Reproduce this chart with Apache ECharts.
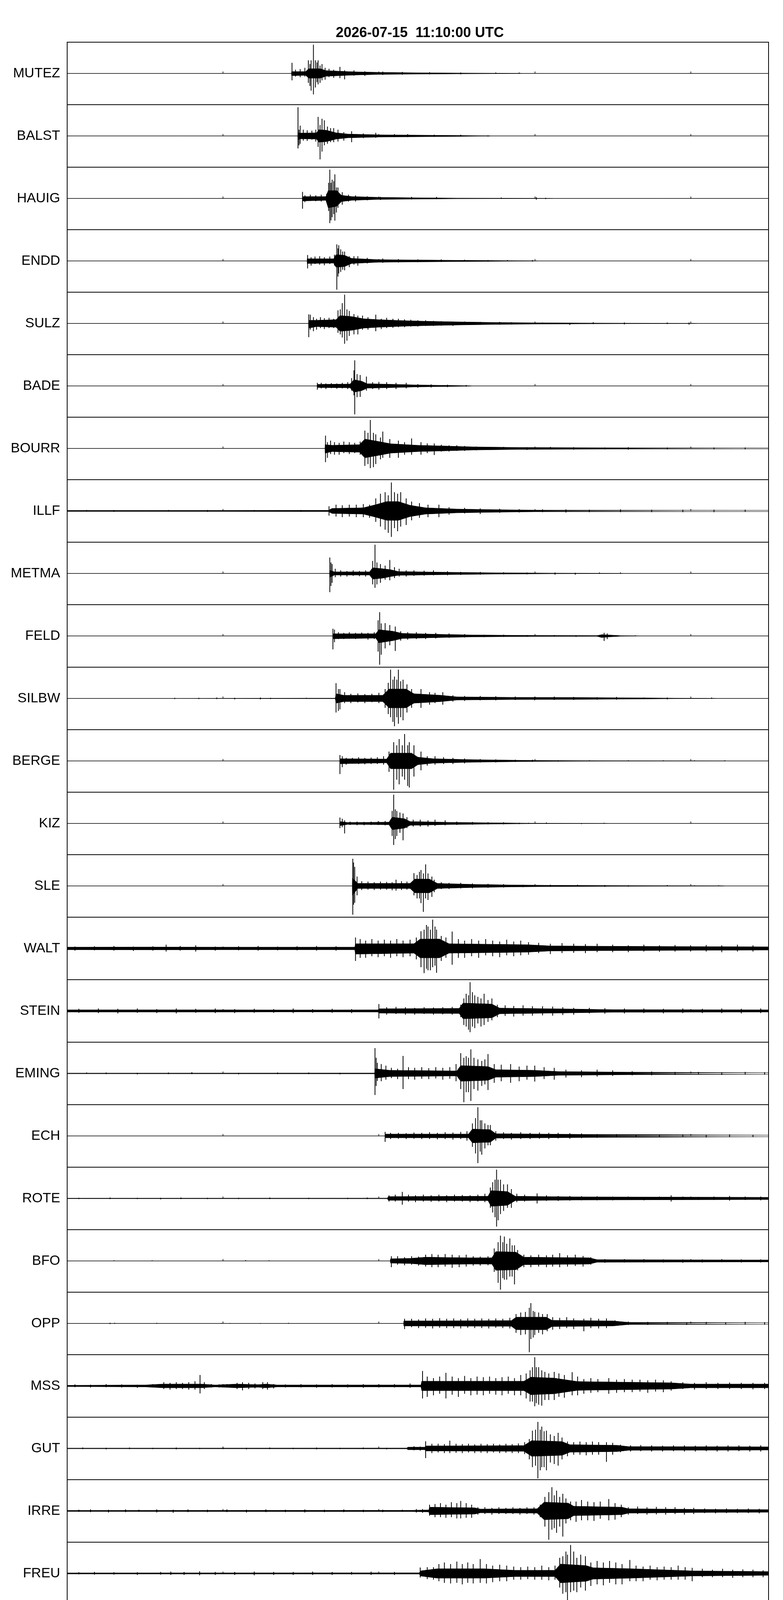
<!DOCTYPE html>
<html><head><meta charset="utf-8">
<script src="https://cdn.jsdelivr.net/npm/echarts@6/dist/echarts.min.js"></script>
<style>html,body{margin:0;padding:0;background:#fff}#c{width:2005px;height:4402px}</style>
</head><body><div id="c"></div>
<script>
const titleText = '2026-07-15  11:10:00 UTC';
const xAxisName = 'Zeit[s]';
const xTicks = [0, 20, 40, 60, 80];
const stations = ['MUTEZ','BALST','HAUIG','ENDD','SULZ','BADE','BOURR','ILLF','METMA','FELD','SILBW','BERGE','KIZ','SLE','WALT','STEIN','EMING','ECH','ROTE','BFO','OPP','MSS','GUT','IRRE','FREU','BABA'];

// *_env: dense core of the trace, knots [time s, upper, lower] (normalised to half a panel)
// *_pk : single excursions, [time s, max, min]
const MUTEZ_env = [[0,0,0],[28.78,0,0],[28.8,0.06,-0.07],[30.6,0.06,-0.06],[31,0.15,-0.15],[32.5,0.15,-0.15],[33.2,0.09,-0.09],[35,0.07,-0.07],[37,0.05,-0.05],[40,0.035,-0.03],[45,0.02,-0.02],[50,0.012,-0.012],[58,0.004,-0.004],[58.5,0,0],[90,0,0]];
const MUTEZ_pk = [[28.85,0.34,-0.22],[29.3,0.12,-0.1],[29.9,0.14,-0.12],[30.5,0.18,-0.1],[30.95,0.42,-0.3],[31.15,0.3,-0.4],[31.3,0.42,-0.55],[31.6,0.92,-0.67],[31.85,0.42,-0.45],[32.05,0.35,-0.28],[32.2,0.42,-0.35],[32.45,0.25,-0.3],[32.7,0.3,-0.22],[33.1,0.18,-0.2],[33.6,0.15,-0.12],[34.2,0.12,-0.14],[35.0,0.21,-0.15],[35.6,0.1,-0.19],[36.8,0.1,-0.07],[38.2,0.07,-0.08],[40.5,0.06,-0.05],[43,0.05,-0.04],[46.5,0.04,-0.03],[50.5,0.03,-0.03],[55,0.03,-0.01],[58,0.03,0]];
const BALST_env = [[0,0,0],[29.58,0,0],[29.6,0.1,-0.12],[30,0.09,-0.09],[32,0.1,-0.1],[32.3,0.2,-0.2],[33.3,0.18,-0.18],[34.5,0.1,-0.1],[36,0.06,-0.06],[40,0.035,-0.035],[45,0.025,-0.025],[50,0.015,-0.015],[54,0.005,-0.005],[54.5,0,0],[90,0,0]];
const BALST_pk = [[29.62,0.92,-0.4],[29.75,0.2,-0.3],[29.9,0.33,-0.25],[30.3,0.2,-0.15],[30.8,0.18,-0.16],[31.4,0.17,-0.12],[31.9,0.2,-0.18],[32.2,0.61,-0.35],[32.45,0.35,-0.75],[32.7,0.55,-0.5],[33.0,0.5,-0.3],[33.4,0.3,-0.25],[33.8,0.25,-0.2],[34.2,0.25,-0.2],[34.75,0.2,-0.18],[35.5,0.12,-0.15],[36.5,0.15,-0.2],[38,0.08,-0.07],[39.6,0.1,-0.06],[42,0.06,-0.04],[43.7,0.06,-0.04],[47.1,0.04,-0.03],[50.5,0.04,-0.02],[54,0.02,-0.02]];
const HAUIG_env = [[0,0,0],[30.18,0,0],[30.2,0.06,-0.08],[33.2,0.06,-0.06],[33.5,0.25,-0.3],[34.6,0.25,-0.25],[35.2,0.1,-0.1],[36.5,0.06,-0.06],[40,0.035,-0.03],[45,0.02,-0.02],[50,0.01,-0.01],[62,0.003,-0.003],[62.5,0,0],[90,0,0]];
const HAUIG_pk = [[30.2,0.21,-0.33],[30.5,0.1,-0.12],[31.2,0.12,-0.08],[31.9,0.1,-0.09],[32.6,0.12,-0.1],[33.3,0.15,-0.12],[33.55,0.5,-0.4],[33.7,0.92,-0.79],[33.85,0.5,-0.7],[34.0,0.6,-0.6],[34.2,0.55,-0.5],[34.35,0.77,-0.71],[34.55,0.35,-0.45],[34.75,0.35,-0.3],[35.3,0.2,-0.2],[36.1,0.12,-0.1],[37,0.1,-0.1],[38.5,0.07,-0.06],[40.2,0.05,-0.05],[44.2,0.05,-0.03],[47.4,0.05,-0.02],[55.7,0.03,0],[60.2,0.04,-0.04],[61.4,0.02,-0.02]];
const ENDD_env = [[0,0,0],[30.78,0,0],[30.8,0.07,-0.08],[34.2,0.07,-0.07],[34.5,0.2,-0.2],[35.6,0.18,-0.18],[36.5,0.08,-0.08],[40,0.04,-0.04],[45,0.03,-0.03],[50,0.02,-0.02],[55,0.012,-0.012],[60,0.004,-0.004],[60.5,0,0],[90,0,0]];
const ENDD_pk = [[30.85,0.19,-0.24],[31.3,0.12,-0.15],[31.8,0.14,-0.1],[32.4,0.15,-0.12],[33.0,0.12,-0.14],[33.7,0.14,-0.1],[34.3,0.2,-0.15],[34.6,0.53,-0.92],[34.75,0.4,-0.5],[34.85,0.5,-0.4],[35.1,0.37,-0.35],[35.35,0.3,-0.28],[35.6,0.3,-0.3],[36.2,0.15,-0.2],[36.8,0.15,-0.12],[37.3,0.15,-0.15],[38.5,0.1,-0.08],[40.5,0.08,-0.06],[42.5,0.06,-0.05],[45,0.05,-0.04],[48,0.05,-0.03],[51,0.04,-0.02],[54,0.03,-0.02],[56.5,0.03,0],[59.7,0.03,-0.02]];
const SULZ_env = [[0,0,0],[30.98,0,0],[31,0.1,-0.15],[32,0.1,-0.1],[34.5,0.12,-0.12],[35,0.25,-0.25],[36.5,0.22,-0.22],[38,0.15,-0.15],[40,0.12,-0.12],[43,0.09,-0.09],[46,0.07,-0.07],[50,0.05,-0.05],[55,0.03,-0.03],[60,0.02,-0.02],[66,0.012,-0.012],[75,0.006,-0.006],[80.5,0.003,-0.003],[81,0,0],[90,0,0]];
const SULZ_pk = [[31.0,0.29,-0.44],[31.2,0.28,-0.2],[31.6,0.2,-0.25],[32.0,0.15,-0.2],[32.5,0.2,-0.15],[33.0,0.17,-0.18],[33.6,0.18,-0.15],[34.2,0.15,-0.15],[34.75,0.42,-0.3],[35.05,0.45,-0.35],[35.3,0.65,-0.45],[35.6,0.92,-0.65],[35.9,0.45,-0.55],[36.2,0.4,-0.4],[36.8,0.3,-0.35],[37.3,0.25,-0.35],[37.9,0.25,-0.2],[38.6,0.2,-0.2],[39.6,0.28,-0.25],[40.3,0.15,-0.18],[41.0,0.18,-0.15],[41.8,0.15,-0.14],[42.5,0.15,-0.12],[43.3,0.13,-0.12],[44.1,0.12,-0.1],[45,0.1,-0.1],[46,0.1,-0.08],[47,0.08,-0.08],[48,0.07,-0.07],[49.5,0.05,-0.08],[51,0.06,-0.05],[53,0.05,-0.04],[55.5,0.05,-0.04],[57,0.04,-0.03],[61,0.03,-0.02],[64.5,0.02,-0.05],[67.5,0.04,-0.02],[71.5,0.03,-0.03],[77,0.03,-0.02],[79.8,0.03,-0.04]];
const BADE_env = [[0,0,0],[32.08,0,0],[32.1,0.05,-0.05],[36.3,0.06,-0.06],[36.8,0.2,-0.2],[37.8,0.15,-0.15],[38.5,0.07,-0.07],[42,0.05,-0.05],[45,0.03,-0.03],[48,0.02,-0.02],[51.5,0.008,-0.008],[52,0,0],[90,0,0]];
const BADE_pk = [[32.1,0.1,-0.12],[32.6,0.1,-0.08],[33.2,0.08,-0.1],[33.9,0.09,-0.07],[34.6,0.08,-0.09],[35.3,0.1,-0.08],[36.0,0.12,-0.1],[36.5,0.25,-0.15],[36.8,0.5,-0.3],[36.9,0.82,-0.91],[37.2,0.38,-0.36],[37.6,0.35,-0.35],[38.4,0.3,-0.15],[39.2,0.12,-0.1],[40,0.13,-0.12],[41,0.12,-0.1],[42.2,0.1,-0.1],[43.5,0.1,-0.08],[45,0.06,-0.06],[46.7,0.05,-0.05],[48.8,0.04,-0.04],[51.2,0.03,-0.02]];
const BOURR_env = [[0,0,0],[33.08,0,0],[33.1,0.12,-0.15],[34,0.1,-0.1],[37.5,0.12,-0.12],[38.2,0.3,-0.3],[40,0.22,-0.22],[41.5,0.15,-0.15],[45,0.1,-0.1],[48,0.08,-0.08],[52,0.05,-0.05],[58,0.03,-0.03],[70,0.02,-0.02],[90,0.015,-0.015]];
const BOURR_pk = [[33.15,0.41,-0.44],[33.4,0.2,-0.3],[33.8,0.25,-0.18],[34.3,0.2,-0.2],[34.9,0.18,-0.2],[35.5,0.22,-0.15],[36.2,0.2,-0.18],[36.9,0.18,-0.15],[37.6,0.22,-0.2],[38.2,0.57,-0.56],[38.6,0.5,-0.5],[38.9,0.91,-0.63],[39.3,0.5,-0.6],[39.6,0.45,-0.5],[40.2,0.35,-0.35],[40.5,0.54,-0.3],[41.4,0.3,-0.3],[42.5,0.25,-0.3],[43.3,0.2,-0.2],[44.2,0.32,-0.2],[45.4,0.2,-0.2],[46.2,0.16,-0.15],[47.1,0.16,-0.21],[48,0.12,-0.1],[49,0.1,-0.1],[50,0.1,-0.08],[51,0.08,-0.08],[52.5,0.06,-0.06],[54,0.05,-0.05],[56,0.05,-0.04],[59,0.04,-0.05],[62,0.05,-0.03],[65,0.04,-0.04],[69,0.03,-0.03],[72,0.04,-0.04],[77,0.03,-0.03],[83,0.03,-0.03],[87,0.03,-0.03]];
const ILLF_env = [[0,0.015,-0.015],[10,0.015,-0.015],[20,0.015,-0.015],[33.5,0.02,-0.02],[34,0.08,-0.08],[38,0.1,-0.1],[39.6,0.2,-0.2],[41,0.3,-0.3],[42.5,0.3,-0.3],[44,0.18,-0.18],[46,0.1,-0.1],[50,0.06,-0.06],[55,0.04,-0.04],[60,0.025,-0.025],[90,0.02,-0.02]];
const ILLF_pk = [[2.5,0.03,-0.02],[6,0.03,-0.03],[13,0.03,-0.02],[18,0.03,-0.03],[24,0.03,-0.02],[30,0.03,-0.03],[33.6,0.15,-0.15],[34.5,0.2,-0.18],[35.3,0.18,-0.2],[36.2,0.2,-0.18],[37.1,0.2,-0.2],[38.0,0.22,-0.2],[38.8,0.2,-0.22],[39.6,0.4,-0.35],[40.2,0.55,-0.5],[40.8,0.6,-0.6],[41.2,0.5,-0.7],[41.6,0.91,-0.83],[42.0,0.6,-0.55],[42.4,0.55,-0.65],[42.8,0.6,-0.5],[43.5,0.4,-0.45],[44.2,0.3,-0.3],[45.2,0.25,-0.22],[46.3,0.2,-0.2],[47.7,0.2,-0.2],[49,0.12,-0.12],[51,0.1,-0.08],[53,0.08,-0.1],[55.5,0.07,-0.06],[58,0.06,-0.05],[61,0.05,-0.04],[64,0.05,-0.05],[67,0.04,-0.04],[71,0.05,-0.04],[75,0.04,-0.04],[79,0.04,-0.04],[83,0.04,-0.04],[87,0.04,-0.03]];
const METMA_env = [[0,0,0],[33.68,0,0],[33.7,0.1,-0.12],[34.3,0.05,-0.05],[38.8,0.05,-0.05],[39.2,0.18,-0.18],[40.5,0.15,-0.15],[41.5,0.12,-0.1],[42.5,0.06,-0.06],[48,0.04,-0.04],[55,0.02,-0.02],[62,0.01,-0.01],[71,0.003,-0.003],[71.5,0,0],[90,0,0]];
const METMA_pk = [[33.7,0.51,-0.6],[33.85,0.35,-0.4],[34.0,0.3,-0.3],[34.4,0.15,-0.12],[35.1,0.1,-0.1],[35.9,0.08,-0.1],[36.7,0.1,-0.08],[37.5,0.08,-0.09],[38.3,0.1,-0.1],[39.2,0.4,-0.35],[39.5,0.92,-0.46],[39.75,0.35,-0.35],[40.2,0.3,-0.3],[40.8,0.25,-0.2],[41.4,0.43,-0.22],[42.0,0.2,-0.15],[42.6,0.15,-0.1],[43.5,0.1,-0.1],[44.5,0.1,-0.08],[45.8,0.09,-0.07],[47,0.1,-0.06],[48.8,0.07,-0.06],[50.5,0.05,-0.05],[53,0.05,-0.04],[56,0.04,-0.03],[59,0.03,-0.03],[62.6,0.03,-0.04],[65.2,0.02,-0.04],[68.3,0.03,0],[71,0.03,0]];
const FELD_env = [[0,0,0],[34.08,0,0],[34.1,0.07,-0.09],[39.6,0.07,-0.07],[40,0.2,-0.22],[41.8,0.15,-0.15],[43,0.08,-0.08],[48,0.05,-0.05],[52,0.03,-0.03],[60,0.015,-0.015],[68,0.012,-0.012],[68.6,0.04,-0.05],[69.5,0.03,-0.03],[71,0.01,-0.01],[73,0.004,-0.004],[73.5,0,0],[90,0,0]];
const FELD_pk = [[34.1,0.23,-0.43],[34.3,0.2,-0.2],[34.8,0.12,-0.1],[35.5,0.1,-0.1],[36.2,0.12,-0.09],[37,0.1,-0.1],[37.8,0.11,-0.08],[38.6,0.1,-0.12],[39.4,0.12,-0.1],[39.9,0.5,-0.5],[40.1,0.76,-0.92],[40.3,0.4,-0.6],[40.8,0.41,-0.4],[41.4,0.35,-0.3],[42.1,0.3,-0.48],[42.8,0.15,-0.15],[43.7,0.12,-0.12],[44.8,0.12,-0.1],[46,0.1,-0.1],[47.3,0.1,-0.08],[49,0.08,-0.06],[51,0.06,-0.05],[53.5,0.04,-0.04],[56,0.04,-0.03],[59,0.03,-0.03],[62.5,0.03,-0.02],[65.3,0.02,-0.03],[68.9,0.1,-0.16],[69.3,0.08,-0.1],[72.9,0.02,-0.01]];
const SILBW_env = [[0,0,0],[13.7,0,0],[13.8,0.008,-0.008],[30.7,0.008,-0.008],[34.4,0.008,-0.008],[34.5,0.15,-0.15],[35.5,0.1,-0.1],[40.5,0.1,-0.1],[41.3,0.3,-0.3],[43.5,0.3,-0.3],[44.5,0.15,-0.15],[48,0.1,-0.1],[50,0.05,-0.05],[57,0.035,-0.035],[65,0.03,-0.03],[72,0.02,-0.02],[78,0.008,-0.008],[83,0.003,-0.003],[83.5,0,0],[90,0,0]];
const SILBW_pk = [[13.8,0.02,-0.02],[16.9,0.02,-0.02],[19.2,0.03,-0.02],[21.5,0.02,-0.03],[24.8,0.03,-0.03],[26.1,0.02,-0.02],[30.7,0.02,-0.01],[34.5,0.49,-0.45],[34.8,0.3,-0.4],[35.0,0.3,-0.35],[35.6,0.2,-0.15],[36.4,0.15,-0.15],[37.3,0.16,-0.13],[38.2,0.14,-0.15],[39.1,0.15,-0.12],[40.0,0.18,-0.15],[40.8,0.3,-0.3],[41.2,0.5,-0.5],[41.5,0.92,-0.6],[41.8,0.6,-0.75],[42.0,0.7,-0.89],[42.3,0.6,-0.6],[42.5,0.92,-0.81],[42.8,0.55,-0.6],[43.1,0.6,-0.7],[43.6,0.45,-0.45],[44.2,0.3,-0.3],[45.4,0.3,-0.3],[46.5,0.2,-0.2],[47.2,0.18,-0.15],[48.2,0.2,-0.2],[49.5,0.1,-0.1],[51,0.08,-0.08],[53,0.08,-0.06],[55,0.07,-0.06],[57.5,0.06,-0.05],[60,0.05,-0.06],[62.5,0.06,-0.05],[65,0.05,-0.05],[68,0.04,-0.04],[70.5,0.05,-0.04],[74,0.03,-0.02],[77,0.03,-0.03],[82.7,0.03,0]];
const BERGE_env = [[0,0,0],[34.98,0,0],[35,0.07,-0.09],[41,0.06,-0.06],[41.5,0.25,-0.25],[44.2,0.25,-0.25],[45,0.12,-0.12],[47,0.07,-0.07],[52,0.04,-0.04],[60,0.015,-0.015],[70,0.006,-0.006],[84.4,0.002,-0.002],[84.6,0,0],[90,0,0]];
const BERGE_pk = [[35.0,0.19,-0.42],[35.3,0.15,-0.2],[35.8,0.1,-0.12],[36.6,0.1,-0.09],[37.4,0.12,-0.1],[38.2,0.1,-0.11],[39,0.11,-0.1],[39.8,0.12,-0.1],[40.6,0.15,-0.12],[41.3,0.3,-0.35],[41.9,0.6,-0.92],[42.3,0.5,-0.6],[42.6,0.7,-0.75],[43.0,0.5,-0.5],[43.3,0.86,-0.6],[43.7,0.5,-0.8],[43.9,0.6,-0.85],[44.5,0.5,-0.5],[45.4,0.3,-0.3],[46.2,0.15,-0.15],[47.2,0.15,-0.12],[48.3,0.12,-0.1],[49.5,0.1,-0.1],[51,0.08,-0.08],[53,0.06,-0.05],[55,0.05,-0.05],[57.5,0.04,-0.03],[59.7,0.04,-0.03],[63,0.02,-0.02],[67,0.02,-0.01],[72,0.02,0],[76.5,0.02,-0.01],[80.5,0.02,0],[84.4,0.02,-0.01]];
const KIZ_env = [[0,0,0],[34.98,0,0],[35,0.06,-0.07],[36,0.03,-0.03],[41.3,0.04,-0.04],[41.7,0.2,-0.2],[43.3,0.15,-0.15],[44,0.06,-0.06],[49,0.035,-0.035],[56,0.015,-0.015],[60,0.006,-0.006],[69,0.002,-0.002],[69.5,0,0],[90,0,0]];
const KIZ_pk = [[35.0,0.19,-0.15],[35.3,0.15,-0.12],[35.6,0.1,-0.32],[36.3,0.06,-0.05],[37.2,0.06,-0.06],[38.1,0.05,-0.06],[39.0,0.06,-0.05],[39.9,0.07,-0.05],[40.8,0.08,-0.06],[41.7,0.4,-0.4],[41.9,0.92,-0.69],[42.1,0.45,-0.5],[42.3,0.4,-0.4],[42.7,0.35,-0.3],[43.1,0.32,-0.54],[43.6,0.2,-0.15],[44.4,0.12,-0.1],[45.3,0.12,-0.1],[46.3,0.1,-0.1],[47.2,0.12,-0.08],[48.5,0.1,-0.06],[50,0.06,-0.05],[52,0.05,-0.04],[54,0.04,-0.03],[56,0.04,-0.03],[58,0.02,-0.02],[59.2,0.02,-0.01],[61.5,0.03,0],[66,0,-0.02],[68.9,0.02,0]];
const SLE_env = [[0,0,0],[36.58,0,0],[36.6,0.25,-0.3],[37.3,0.08,-0.08],[44,0.08,-0.08],[44.6,0.22,-0.22],[46.5,0.22,-0.22],[47.5,0.08,-0.08],[52,0.05,-0.05],[57,0.03,-0.03],[62,0.02,-0.02],[70,0.012,-0.012],[84,0.005,-0.005],[84.5,0,0],[90,0,0]];
const SLE_pk = [[36.65,0.87,-0.92],[36.75,0.75,-0.6],[36.9,0.61,-0.54],[37.2,0.3,-0.3],[37.8,0.15,-0.13],[38.6,0.14,-0.12],[39.4,0.12,-0.13],[40.2,0.14,-0.12],[41.0,0.13,-0.12],[41.7,0.12,-0.14],[42.2,0.2,-0.15],[42.9,0.15,-0.13],[43.6,0.14,-0.12],[44.5,0.41,-0.3],[44.9,0.35,-0.4],[45.2,0.45,-0.4],[45.4,0.51,-0.55],[45.7,0.4,-0.83],[46.0,0.69,-0.4],[46.3,0.4,-0.45],[46.8,0.3,-0.35],[47.1,0.2,-0.2],[48,0.12,-0.1],[49,0.1,-0.1],[50.5,0.1,-0.08],[52,0.08,-0.08],[54,0.07,-0.06],[56,0.06,-0.05],[58.5,0.04,-0.04],[62,0.04,-0.03],[65.5,0.04,-0.02],[69,0.03,-0.03],[72,0.02,-0.02],[77,0.03,-0.01],[80.5,0.02,-0.01],[83.6,0.02,-0.01]];
const WALT_env = [[0,0.04,-0.04],[10,0.045,-0.045],[20,0.04,-0.04],[30,0.04,-0.04],[36.9,0.04,-0.04],[37,0.15,-0.18],[44.5,0.15,-0.15],[45.3,0.3,-0.3],[47.8,0.3,-0.3],[49,0.15,-0.15],[59,0.12,-0.12],[62,0.08,-0.08],[69,0.07,-0.07],[90,0.05,-0.05]];
const WALT_pk = [[1,0.06,-0.07],[3.5,0.07,-0.06],[6,0.08,-0.07],[8.5,0.06,-0.08],[11,0.07,-0.07],[12.7,0.12,-0.1],[14.5,0.08,-0.07],[16.5,0.1,-0.1],[19,0.06,-0.07],[22,0.07,-0.06],[24.5,0.08,-0.07],[27,0.06,-0.06],[29.5,0.07,-0.06],[32,0.08,-0.07],[34.5,0.07,-0.07],[37,0.35,-0.4],[37.6,0.3,-0.3],[38.3,0.25,-0.3],[39.1,0.3,-0.25],[39.9,0.25,-0.28],[40.7,0.28,-0.25],[41.5,0.25,-0.3],[42.3,0.3,-0.25],[43.1,0.25,-0.28],[44,0.28,-0.25],[44.8,0.35,-0.35],[45.4,0.55,-0.6],[45.8,0.6,-0.79],[46.1,0.75,-0.65],[46.3,0.7,-0.7],[46.6,0.6,-0.7],[46.9,0.92,-0.6],[47.2,0.7,-0.55],[47.4,0.6,-0.78],[48,0.4,-0.4],[48.6,0.35,-0.3],[49.4,0.54,-0.52],[50.2,0.3,-0.3],[51,0.25,-0.3],[51.9,0.3,-0.25],[52.8,0.25,-0.3],[53.7,0.3,-0.22],[54.6,0.25,-0.25],[55.5,0.22,-0.28],[56.4,0.28,-0.22],[57.3,0.22,-0.25],[58.2,0.25,-0.22],[59.2,0.2,-0.2],[60.5,0.18,-0.15],[62,0.15,-0.18],[63.5,0.17,-0.15],[65,0.15,-0.14],[66.5,0.14,-0.15],[68,0.15,-0.12],[70,0.12,-0.12],[72,0.1,-0.12],[74,0.12,-0.1],[76,0.1,-0.11],[78,0.11,-0.1],[80,0.1,-0.1],[82,0.11,-0.1],[84,0.1,-0.12],[86,0.12,-0.1],[88,0.1,-0.1]];
const STEIN_env = [[0,0.035,-0.035],[10,0.035,-0.035],[20,0.035,-0.035],[30,0.03,-0.03],[39.9,0.035,-0.035],[40,0.07,-0.07],[50.3,0.08,-0.08],[50.8,0.25,-0.25],[54.5,0.22,-0.22],[55.5,0.09,-0.09],[65,0.06,-0.06],[70,0.04,-0.04],[90,0.035,-0.035]];
const STEIN_pk = [[1.5,0.07,-0.06],[4,0.08,-0.07],[6.5,0.07,-0.08],[9,0.08,-0.06],[11.5,0.06,-0.07],[14,0.08,-0.08],[16.5,0.07,-0.06],[19,0.08,-0.07],[21.5,0.06,-0.07],[24,0.07,-0.06],[26.5,0.06,-0.06],[29,0.08,-0.07],[31.5,0.06,-0.06],[34,0.07,-0.06],[36.5,0.06,-0.07],[40,0.22,-0.24],[41,0.12,-0.12],[42.2,0.13,-0.1],[43.4,0.12,-0.12],[44.6,0.1,-0.12],[45.8,0.12,-0.1],[47,0.11,-0.12],[48.2,0.12,-0.11],[49.4,0.13,-0.12],[50.5,0.2,-0.2],[50.9,0.4,-0.45],[51.2,0.55,-0.5],[51.5,0.5,-0.6],[51.7,0.92,-0.68],[52,0.6,-0.5],[52.3,0.5,-0.55],[52.7,0.45,-0.4],[53.1,0.4,-0.5],[53.5,0.55,-0.45],[54,0.35,-0.35],[54.5,0.4,-0.3],[55.2,0.2,-0.2],[56.2,0.18,-0.16],[57.3,0.16,-0.18],[58.5,0.18,-0.15],[59.7,0.15,-0.15],[61,0.15,-0.14],[62.3,0.14,-0.15],[63.6,0.12,-0.13],[65,0.1,-0.12],[67,0.1,-0.08],[69,0.09,-0.09],[71.5,0.08,-0.08],[74,0.08,-0.07],[76.5,0.07,-0.08],[79,0.08,-0.07],[81.5,0.07,-0.07],[84,0.08,-0.07],[86.5,0.07,-0.08],[89,0.08,-0.07]];
const EMING_env = [[0,0.01,-0.01],[39.45,0.012,-0.012],[39.5,0.15,-0.15],[41.4,0.1,-0.1],[50,0.08,-0.08],[50.5,0.25,-0.25],[54,0.22,-0.22],[55,0.12,-0.12],[60,0.1,-0.1],[63,0.06,-0.06],[72,0.04,-0.04],[90,0.025,-0.025]];
const EMING_pk = [[2.5,0.03,-0.01],[5,0.03,-0.02],[9,0.02,-0.03],[13,0.03,-0.02],[16,0.04,-0.02],[22,0.02,-0.03],[27,0.03,-0.02],[31,0.03,-0.02],[35,0.02,-0.03],[39.5,0.81,-0.69],[39.65,0.5,-0.4],[39.8,0.34,-0.24],[40.3,0.3,-0.25],[40.9,0.25,-0.2],[41.6,0.18,-0.15],[42.4,0.15,-0.18],[43.1,0.56,-0.5],[43.8,0.2,-0.18],[44.6,0.18,-0.2],[45.5,0.2,-0.17],[46.4,0.17,-0.18],[47.3,0.2,-0.16],[48.2,0.18,-0.2],[49.1,0.2,-0.17],[49.9,0.3,-0.25],[50.5,0.65,-0.5],[50.9,0.5,-0.92],[51.2,0.55,-0.6],[51.5,0.5,-0.6],[51.8,0.77,-0.88],[52.2,0.5,-0.5],[52.7,0.45,-0.55],[53.2,0.4,-0.4],[53.6,0.45,-0.35],[54.0,0.62,-0.53],[54.8,0.3,-0.3],[55.7,0.28,-0.25],[56.9,0.3,-0.3],[58,0.22,-0.25],[59,0.25,-0.2],[60,0.25,-0.26],[61.2,0.2,-0.18],[62.5,0.18,-0.2],[64,0.12,-0.13],[66,0.1,-0.12],[68,0.12,-0.1],[70,0.1,-0.08],[72.5,0.07,-0.06],[75,0.06,-0.06],[78,0.05,-0.05],[81,0.05,-0.04],[84,0.04,-0.05],[87,0.05,-0.04],[89.5,0.04,-0.04]];
const ECH_env = [[0,0,0],[40.78,0,0],[40.8,0.06,-0.06],[51.5,0.06,-0.06],[52,0.22,-0.22],[54.3,0.2,-0.2],[55,0.07,-0.07],[66,0.05,-0.05],[90,0.025,-0.025]];
const ECH_pk = [[40.8,0.13,-0.19],[41.5,0.1,-0.1],[42.5,0.1,-0.09],[43.5,0.09,-0.1],[44.5,0.11,-0.09],[45.5,0.1,-0.1],[46.5,0.12,-0.1],[47.5,0.1,-0.11],[48.5,0.12,-0.1],[49.5,0.11,-0.12],[50.5,0.13,-0.1],[51.3,0.15,-0.15],[52.0,0.4,-0.35],[52.4,0.57,-0.56],[52.7,0.92,-0.87],[53.0,0.5,-0.5],[53.2,0.5,-0.6],[53.6,0.4,-0.4],[54.0,0.35,-0.3],[54.3,0.35,-0.3],[55,0.15,-0.15],[56,0.12,-0.1],[57,0.1,-0.12],[58.2,0.12,-0.1],[59.4,0.1,-0.1],[60.6,0.11,-0.09],[61.8,0.1,-0.1],[63,0.1,-0.08],[64.5,0.09,-0.09],[66,0.08,-0.07],[68,0.06,-0.06],[70.5,0.06,-0.05],[73,0.05,-0.05],[76,0.05,-0.04],[79,0.05,-0.04],[82,0.04,-0.05],[85,0.05,-0.04],[88,0.04,-0.04]];
const ROTE_env = [[0,0.008,-0.008],[41.1,0.01,-0.01],[41.2,0.06,-0.06],[54,0.07,-0.07],[54.4,0.25,-0.25],[56.5,0.22,-0.22],[57.5,0.07,-0.07],[65,0.05,-0.05],[90,0.035,-0.035]];
const ROTE_pk = [[1.5,0.02,-0.02],[5.5,0.03,-0.02],[9,0.02,-0.02],[12,0.02,-0.03],[14.6,0.03,-0.02],[18,0.02,-0.02],[22,0.02,-0.02],[26,0.03,-0.02],[31,0.02,-0.02],[36,0.02,-0.02],[38.5,0.03,-0.02],[41.3,0.1,-0.1],[42.1,0.12,-0.1],[43,0.21,-0.2],[43.8,0.12,-0.1],[44.7,0.1,-0.12],[45.7,0.12,-0.1],[46.7,0.1,-0.11],[47.7,0.12,-0.1],[48.7,0.1,-0.12],[49.7,0.12,-0.1],[50.7,0.11,-0.1],[51.7,0.1,-0.12],[52.7,0.12,-0.1],[53.6,0.15,-0.12],[54.3,0.35,-0.3],[54.6,0.52,-0.45],[54.9,0.6,-0.6],[55.1,0.92,-0.9],[55.3,0.6,-0.7],[55.6,0.6,-0.5],[56.0,0.45,-0.4],[56.5,0.45,-0.3],[57,0.3,-0.3],[57.7,0.15,-0.12],[58.7,0.12,-0.1],[60.3,0.16,-0.16],[61.5,0.1,-0.08],[63,0.08,-0.08],[64.5,0.08,-0.07],[66,0.07,-0.06],[68,0.07,-0.06],[70,0.06,-0.06],[72,0.06,-0.05],[74,0.05,-0.06],[76,0.06,-0.05],[77.5,0.1,-0.1],[79,0.06,-0.05],[81,0.05,-0.05],[83,0.06,-0.05],[85,0.08,-0.07],[87,0.06,-0.05],[89,0.06,-0.06]];
const BFO_env = [[0,0,0],[41.45,0,0],[41.5,0.07,-0.07],[44,0.08,-0.08],[46,0.12,-0.12],[51.5,0.1,-0.1],[54.5,0.1,-0.1],[55,0.3,-0.3],[57.6,0.28,-0.28],[58.6,0.12,-0.12],[67,0.1,-0.1],[68,0.04,-0.04],[90,0.03,-0.03]];
const BFO_pk = [[6,0.02,0],[10.9,0.02,0],[22.9,0.025,0],[25.9,0.02,0],[41.6,0.15,-0.2],[42.4,0.15,-0.12],[43.3,0.12,-0.14],[44.2,0.15,-0.12],[45.1,0.14,-0.15],[46,0.2,-0.18],[46.8,0.22,-0.2],[47.6,0.2,-0.2],[48.5,0.22,-0.18],[49.4,0.2,-0.22],[50.3,0.18,-0.2],[51.2,0.2,-0.18],[52.1,0.15,-0.15],[53,0.14,-0.15],[54,0.15,-0.14],[54.8,0.4,-0.35],[55.3,0.6,-0.7],[55.6,0.81,-0.92],[55.9,0.6,-0.55],[56.1,0.78,-0.6],[56.4,0.55,-0.6],[56.8,0.72,-0.5],[57.1,0.5,-0.5],[57.4,0.5,-0.75],[57.8,0.35,-0.3],[58.6,0.2,-0.2],[59.5,0.18,-0.2],[60.5,0.2,-0.18],[61.5,0.18,-0.2],[62.3,0.2,-0.18],[63.2,0.25,-0.2],[64.2,0.18,-0.18],[65.2,0.2,-0.16],[66.2,0.16,-0.18],[67.2,0.12,-0.12],[69,0.06,-0.06],[71.5,0.06,-0.05],[74,0.06,-0.05],[76.5,0.05,-0.05],[79,0.05,-0.06],[81.5,0.05,-0.05],[84,0.06,-0.04],[86.5,0.05,-0.05],[89,0.05,-0.05]];
const OPP_env = [[0,0,0],[43.18,0,0],[43.2,0.08,-0.08],[57,0.09,-0.09],[57.6,0.2,-0.2],[61.5,0.2,-0.2],[62.2,0.1,-0.1],[70,0.08,-0.08],[72,0.035,-0.035],[90,0.025,-0.025]];
const OPP_pk = [[5.5,0.02,-0.02],[6.1,0.02,-0.01],[11.5,0.02,0],[19.8,0.01,-0.01],[20.9,0.01,-0.01],[24.8,0.01,-0.01],[28.4,0.02,0],[43.3,0.15,-0.18],[44.2,0.15,-0.12],[45.1,0.13,-0.15],[46,0.16,-0.14],[46.9,0.15,-0.16],[47.8,0.17,-0.14],[48.7,0.15,-0.15],[49.6,0.16,-0.15],[50.5,0.14,-0.16],[51.4,0.16,-0.14],[52.3,0.15,-0.15],[53.2,0.16,-0.15],[54.1,0.15,-0.16],[55,0.16,-0.14],[55.9,0.15,-0.15],[56.8,0.18,-0.16],[57.6,0.3,-0.3],[58.2,0.35,-0.37],[58.8,0.37,-0.35],[59.3,0.5,-0.92],[59.5,0.65,-0.5],[59.8,0.4,-0.45],[60.0,0.37,-0.37],[60.5,0.35,-0.3],[61.0,0.3,-0.35],[61.6,0.3,-0.25],[62.3,0.2,-0.2],[63.2,0.18,-0.18],[64.1,0.2,-0.15],[65,0.16,-0.18],[66.3,0.15,-0.25],[67.2,0.18,-0.15],[68.2,0.15,-0.16],[69.2,0.16,-0.15],[70.3,0.1,-0.08],[72,0.06,-0.05],[74.5,0.05,-0.05],[77,0.05,-0.04],[79.5,0.04,-0.05],[82,0.05,-0.04],[84.5,0.04,-0.04],[87,0.05,-0.04],[89.5,0.04,-0.04]];
const MSS_env = [[0,0.02,-0.02],[10,0.03,-0.03],[12.3,0.06,-0.06],[17.2,0.06,-0.06],[19,0.03,-0.03],[21.8,0.06,-0.06],[24.5,0.04,-0.04],[25.5,0.06,-0.06],[27,0.03,-0.03],[45.4,0.03,-0.03],[45.5,0.15,-0.15],[58.6,0.15,-0.15],[59.5,0.28,-0.28],[62.5,0.25,-0.25],[65.5,0.14,-0.14],[77.5,0.1,-0.1],[80,0.06,-0.06],[90,0.06,-0.06]];
const MSS_pk = [[1,0.05,-0.04],[3,0.04,-0.05],[5,0.06,-0.04],[7,0.05,-0.05],[9,0.04,-0.06],[11,0.06,-0.05],[12.4,0.12,-0.1],[13.2,0.1,-0.12],[14,0.12,-0.1],[14.8,0.1,-0.1],[15.6,0.12,-0.12],[16.4,0.15,-0.12],[17.05,0.35,-0.24],[17.6,0.12,-0.1],[18.5,0.06,-0.05],[19.5,0.05,-0.05],[20.5,0.06,-0.05],[21.8,0.1,-0.1],[22.5,0.12,-0.14],[23.3,0.1,-0.1],[24.1,0.08,-0.08],[25.1,0.12,-0.1],[25.7,0.12,-0.12],[26.5,0.06,-0.08],[28,0.05,-0.05],[30,0.06,-0.05],[32,0.05,-0.06],[34,0.06,-0.05],[36,0.05,-0.05],[38,0.06,-0.06],[40,0.05,-0.05],[42,0.06,-0.05],[44,0.08,-0.06],[45.6,0.48,-0.4],[46.2,0.3,-0.35],[47,0.25,-0.3],[47.8,0.3,-0.25],[48.6,0.42,-0.4],[49.4,0.3,-0.28],[50.2,0.25,-0.35],[51,0.32,-0.25],[51.8,0.25,-0.3],[52.6,0.3,-0.28],[53.4,0.28,-0.3],[54.2,0.3,-0.25],[55,0.25,-0.28],[55.8,0.28,-0.3],[56.6,0.3,-0.25],[57.4,0.25,-0.3],[58.2,0.35,-0.3],[58.9,0.4,-0.4],[59.4,0.5,-0.5],[59.7,0.6,-0.5],[60.0,0.92,-0.65],[60.2,0.6,-0.55],[60.5,0.6,-0.6],[60.9,0.5,-0.63],[61.3,0.45,-0.45],[61.8,0.4,-0.45],[62.5,0.45,-0.45],[63.1,0.4,-0.35],[63.8,0.35,-0.38],[64.8,0.44,-0.3],[65.5,0.3,-0.3],[66.3,0.22,-0.25],[67.2,0.25,-0.22],[68.1,0.22,-0.2],[69.5,0.25,-0.25],[70.5,0.2,-0.22],[71.5,0.22,-0.2],[72.5,0.2,-0.2],[73.5,0.2,-0.18],[74.5,0.18,-0.22],[75.5,0.2,-0.18],[76.5,0.18,-0.2],[77.5,0.15,-0.15],[79,0.12,-0.1],[80.5,0.1,-0.12],[82,0.12,-0.1],[83.5,0.1,-0.1],[85,0.11,-0.1],[86.5,0.1,-0.1],[88,0.1,-0.11],[89.5,0.1,-0.1]];
const GUT_env = [[0,0.01,-0.01],[43.6,0.012,-0.012],[43.7,0.04,-0.04],[45.9,0.04,-0.04],[46,0.08,-0.08],[58.6,0.09,-0.09],[59.6,0.25,-0.25],[63.5,0.22,-0.22],[64.5,0.12,-0.12],[70.6,0.1,-0.1],[72,0.06,-0.06],[90,0.05,-0.05]];
const GUT_pk = [[2,0.03,-0.02],[5,0.02,-0.03],[8,0.03,-0.02],[11,0.02,-0.02],[14,0.03,-0.03],[17,0.02,-0.02],[20,0.03,-0.02],[23,0.02,-0.03],[26,0.03,-0.02],[29,0.02,-0.02],[32,0.03,-0.03],[35,0.02,-0.02],[38,0.03,-0.02],[41,0.02,-0.03],[44.5,0.07,-0.06],[45.3,0.06,-0.07],[46,0.23,-0.31],[46.8,0.15,-0.15],[47.6,0.15,-0.13],[48.4,0.14,-0.15],[49.1,0.25,-0.15],[49.9,0.15,-0.14],[50.7,0.14,-0.15],[51.5,0.15,-0.13],[52.3,0.13,-0.15],[53.1,0.15,-0.14],[53.9,0.14,-0.15],[54.7,0.15,-0.13],[55.5,0.13,-0.15],[56.3,0.15,-0.14],[57.1,0.14,-0.15],[57.9,0.16,-0.15],[58.7,0.2,-0.18],[59.3,0.3,-0.35],[59.7,0.57,-0.6],[60.1,0.6,-0.55],[60.4,0.85,-0.96],[60.7,0.6,-0.7],[60.9,0.7,-0.6],[61.2,0.55,-0.6],[61.5,0.57,-0.7],[62,0.45,-0.45],[62.5,0.4,-0.5],[63.0,0.5,-0.55],[63.5,0.35,-0.35],[64.2,0.22,-0.25],[65,0.2,-0.2],[65.8,0.22,-0.2],[66.6,0.2,-0.22],[67.4,0.22,-0.2],[68.2,0.2,-0.2],[69.2,0.2,-0.43],[70,0.18,-0.2],[71,0.12,-0.12],[72.3,0.1,-0.1],[73.6,0.11,-0.09],[75,0.1,-0.1],[76.4,0.09,-0.1],[77.8,0.1,-0.09],[79.2,0.1,-0.1],[80.6,0.09,-0.1],[82,0.1,-0.09],[83.4,0.09,-0.1],[84.8,0.1,-0.1],[86.2,0.1,-0.09],[87.6,0.09,-0.1],[89,0.1,-0.1]];
const IRRE_env = [[0,0.015,-0.015],[44.1,0.02,-0.02],[44.2,0.03,-0.03],[46.4,0.03,-0.03],[46.5,0.12,-0.12],[52.3,0.1,-0.1],[53,0.06,-0.06],[60.3,0.07,-0.07],[61.2,0.28,-0.28],[64.3,0.25,-0.25],[65,0.15,-0.15],[71.2,0.12,-0.12],[72,0.07,-0.07],[80.4,0.05,-0.05],[90,0.04,-0.04]];
const IRRE_pk = [[1.5,0.04,-0.03],[3,0.05,-0.04],[5.3,0.04,-0.05],[7.5,0.05,-0.04],[9.2,0.04,-0.03],[11.5,0.05,-0.05],[13.6,0.04,-0.06],[15.5,0.05,-0.04],[18,0.04,-0.04],[20.5,0.05,-0.04],[23,0.04,-0.05],[25.5,0.05,-0.04],[28,0.04,-0.04],[30.5,0.05,-0.05],[33,0.04,-0.04],[35.5,0.05,-0.04],[38,0.04,-0.04],[40.5,0.04,-0.04],[43,0.04,-0.03],[44.8,0.06,-0.05],[45.6,0.06,-0.06],[46.5,0.2,-0.15],[47.2,0.22,-0.2],[47.9,0.25,-0.2],[48.6,0.2,-0.22],[49.3,0.28,-0.2],[50,0.25,-0.24],[50.5,0.32,-0.24],[51.2,0.25,-0.22],[51.9,0.2,-0.22],[52.7,0.12,-0.12],[53.6,0.12,-0.1],[54.5,0.1,-0.12],[55.4,0.12,-0.1],[56.3,0.1,-0.1],[57.2,0.12,-0.1],[58.1,0.1,-0.12],[59,0.12,-0.1],[59.9,0.12,-0.12],[60.7,0.2,-0.2],[61.3,0.45,-0.5],[61.8,0.6,-0.92],[62.2,0.76,-0.6],[62.5,0.5,-0.55],[62.8,0.65,-0.7],[63.2,0.45,-0.5],[63.6,0.55,-0.82],[64,0.4,-0.4],[64.6,0.3,-0.3],[65.3,0.3,-0.35],[66,0.35,-0.3],[66.8,0.3,-0.3],[67.6,0.28,-0.32],[68.4,0.3,-0.25],[69.5,0.38,-0.3],[70.3,0.25,-0.28],[71.1,0.2,-0.2],[72,0.12,-0.12],[73.2,0.14,-0.1],[74.4,0.12,-0.12],[75.6,0.13,-0.11],[76.8,0.12,-0.12],[78,0.12,-0.1],[79.2,0.1,-0.12],[80.4,0.1,-0.1],[81.8,0.08,-0.07],[83.2,0.07,-0.08],[84.6,0.08,-0.07],[86,0.07,-0.07],[87.4,0.08,-0.07],[88.8,0.07,-0.08]];
const FREU_env = [[0,0.015,-0.015],[45.2,0.02,-0.02],[45.3,0.08,-0.08],[47.5,0.15,-0.15],[53.5,0.15,-0.15],[57.4,0.1,-0.1],[62.6,0.1,-0.1],[63.3,0.3,-0.3],[66.6,0.25,-0.25],[67.5,0.18,-0.18],[72.4,0.15,-0.15],[80.4,0.08,-0.08],[90,0.06,-0.06]];
const FREU_pk = [[1.5,0.04,-0.03],[3.5,0.05,-0.04],[6,0.04,-0.04],[9,0.04,-0.05],[12,0.05,-0.04],[13.3,0.06,-0.05],[15,0.05,-0.05],[17,0.07,-0.06],[19,0.05,-0.05],[21.5,0.05,-0.05],[24,0.06,-0.06],[26.5,0.05,-0.05],[29,0.05,-0.05],[31.5,0.06,-0.05],[34,0.05,-0.05],[36.5,0.05,-0.04],[39,0.06,-0.05],[42,0.05,-0.05],[45.3,0.19,-0.13],[46.2,0.2,-0.18],[47,0.2,-0.2],[47.7,0.3,-0.25],[48.4,0.35,-0.3],[49.2,0.3,-0.32],[50,0.38,-0.3],[50.7,0.3,-0.35],[51.4,0.35,-0.3],[52.1,0.3,-0.32],[53,0.46,-0.3],[53.8,0.3,-0.32],[54.6,0.25,-0.28],[55.5,0.28,-0.25],[56.4,0.25,-0.25],[57.3,0.22,-0.2],[58.2,0.2,-0.2],[59.1,0.22,-0.18],[60,0.2,-0.2],[60.9,0.25,-0.2],[61.8,0.2,-0.22],[62.6,0.25,-0.2],[63.2,0.5,-0.45],[63.6,0.55,-0.65],[64.0,0.7,-0.6],[64.2,0.6,-0.85],[64.6,0.91,-0.6],[65.0,0.7,-0.55],[65.4,0.5,-0.6],[65.9,0.6,-0.45],[66.5,0.55,-0.55],[67.2,0.35,-0.4],[68,0.4,-0.35],[68.8,0.35,-0.38],[69.6,0.4,-0.3],[70.4,0.35,-0.35],[71.2,0.3,-0.35],[72.2,0.43,-0.25],[73,0.25,-0.25],[73.9,0.22,-0.25],[74.8,0.25,-0.2],[75.7,0.2,-0.22],[76.6,0.22,-0.2],[77.5,0.2,-0.2],[78.4,0.25,-0.2],[79.3,0.2,-0.2],[80.2,0.18,-0.25],[81.5,0.15,-0.12],[82.8,0.12,-0.12],[84.1,0.15,-0.12],[85.4,0.12,-0.14],[86.7,0.13,-0.12],[88,0.12,-0.12],[89.3,0.1,-0.12]];
const BABA_env = [[0,0,0],[3,0.005,-0.005],[46.2,0.008,-0.008],[46.3,0.07,-0.07],[63.2,0.09,-0.09],[64.8,0.22,-0.22],[70,0.18,-0.18],[71,0.08,-0.08],[76,0.06,-0.06],[90,0.05,-0.05]];
const BABA_pk = [[3.3,0.01,-0.02],[4.2,0.02,0],[5.3,0.02,-0.01],[8.8,0.02,-0.01],[10.5,0.02,-0.01],[12.1,0.02,-0.02],[13.9,0.02,-0.01],[18.6,0.02,0],[21.3,0.02,-0.01],[25.5,0.02,0],[28.5,0.02,-0.01],[33.8,0.01,-0.02],[37.6,0.02,-0.01],[40.5,0.02,0],[43.5,0.02,-0.01],[46.3,0.13,-0.15],[47.2,0.12,-0.1],[48.1,0.1,-0.12],[49,0.15,-0.1],[49.9,0.12,-0.13],[50.8,0.15,-0.12],[51.7,0.12,-0.15],[52.6,0.14,-0.12],[53.5,0.12,-0.13],[54.4,0.14,-0.12],[55.3,0.12,-0.14],[56.2,0.13,-0.12],[57.1,0.14,-0.12],[58,0.12,-0.13],[58.9,0.14,-0.12],[59.8,0.13,-0.14],[60.7,0.2,-0.13],[61.6,0.14,-0.18],[62.5,0.15,-0.14],[63.4,0.18,-0.16],[64.2,0.3,-0.25],[64.9,0.38,-0.46],[65.5,0.45,-0.4],[65.8,0.55,-0.7],[66.1,0.81,-0.92],[66.3,0.6,-0.6],[66.5,0.55,-0.6],[66.9,0.4,-0.55],[67.4,0.35,-0.4],[68,0.38,-0.35],[68.6,0.3,-0.33],[69.2,0.35,-0.3],[69.8,0.3,-0.35],[70.5,0.4,-0.3],[71.1,0.2,-0.2],[71.6,0.2,-0.35],[72.4,0.15,-0.15],[73.3,0.14,-0.15],[74.2,0.15,-0.13],[75.1,0.13,-0.14],[76,0.1,-0.12],[77.5,0.1,-0.09],[79,0.09,-0.1],[80.5,0.1,-0.08],[82,0.08,-0.1],[83.5,0.09,-0.08],[85,0.08,-0.09],[86.5,0.09,-0.08],[88,0.08,-0.09],[89.5,0.09,-0.08]];

const envs = [MUTEZ_env,BALST_env,HAUIG_env,ENDD_env,SULZ_env,BADE_env,BOURR_env,ILLF_env,METMA_env,FELD_env,SILBW_env,BERGE_env,KIZ_env,SLE_env,WALT_env,STEIN_env,EMING_env,ECH_env,ROTE_env,BFO_env,OPP_env,MSS_env,GUT_env,IRRE_env,FREU_env,BABA_env];
const peaks = [MUTEZ_pk,BALST_pk,HAUIG_pk,ENDD_pk,SULZ_pk,BADE_pk,BOURR_pk,ILLF_pk,METMA_pk,FELD_pk,SILBW_pk,BERGE_pk,KIZ_pk,SLE_pk,WALT_pk,STEIN_pk,EMING_pk,ECH_pk,ROTE_pk,BFO_pk,OPP_pk,MSS_pk,GUT_pk,IRRE_pk,FREU_pk,BABA_pk];

const FONT = 'Liberation Sans, Arial, Helvetica, sans-serif';
const L = 172, R = 37, TOP = 108, PH = 160;
const n = stations.length;
const grids = [], xAxes = [], yAxes = [], series = [];
for (let i = 0; i < n; i++) {
  const last = i === n - 1;
  grids.push({left: L, right: R, top: TOP + i * PH, height: PH, show: true, borderColor: '#000', borderWidth: 2, backgroundColor: 'transparent'});
  xAxes.push({
    gridIndex: i, type: 'value', min: xTicks[0], max: 90, interval: xTicks[1] - xTicks[0],
    axisLine: {show: false}, splitLine: {show: false},
    axisTick: {show: true, inside: true, length: last ? 8 : 5, lineStyle: {color: '#000', width: 1.5}},
    axisLabel: {show: last, showMaxLabel: false, fontSize: 31, color: '#000', margin: 9, fontFamily: FONT},
    name: last ? xAxisName : '', nameLocation: 'middle', nameGap: 42,
    nameTextStyle: {fontSize: 37, fontWeight: 'bold', color: '#000', fontFamily: FONT}
  });
  yAxes.push({
    gridIndex: i, type: 'value', min: -1, max: 1, interval: 1,
    axisLine: {show: false}, axisTick: {show: false}, splitLine: {show: false},
    axisLabel: {formatter: v => v === 0 ? stations[i] : '', fontSize: 35, color: '#000', margin: 18, fontFamily: FONT}
  });
  const e = envs[i];
  const common = {type: 'line', xAxisIndex: i, yAxisIndex: i, showSymbol: false, symbol: 'none', silent: true,
    lineStyle: {color: '#000', width: 1}, areaStyle: {color: '#000', opacity: 1}, animation: false};
  series.push(Object.assign({}, common, {data: e.map(k => [k[0], k[1]])}));
  series.push(Object.assign({}, common, {data: e.map(k => [k[0], k[2]])}));
  series.push({
    type: 'custom', xAxisIndex: i, yAxisIndex: i, silent: true, animation: false,
    data: peaks[i], encode: {x: 0, y: [1, 2]},
    renderItem: (params, api) => {
      const a = api.coord([api.value(0), api.value(1)]);
      const b = api.coord([api.value(0), api.value(2)]);
      return {type: 'line', shape: {x1: a[0], y1: a[1], x2: b[0], y2: b[1]}, style: {stroke: '#000', lineWidth: 2}};
    }
  });
}
const chart = echarts.init(document.getElementById('c'), null, {renderer: 'canvas'});
chart.setOption({
  animation: false,
  backgroundColor: '#fff',
  textStyle: {fontFamily: FONT},
  title: {text: titleText, left: L + (2005 - L - R) / 2, top: 62, textAlign: 'center',
    textStyle: {fontSize: 36, fontWeight: 'bold', color: '#000', fontFamily: FONT}},
  grid: grids, xAxis: xAxes, yAxis: yAxes, series: series
});
</script></body></html>
